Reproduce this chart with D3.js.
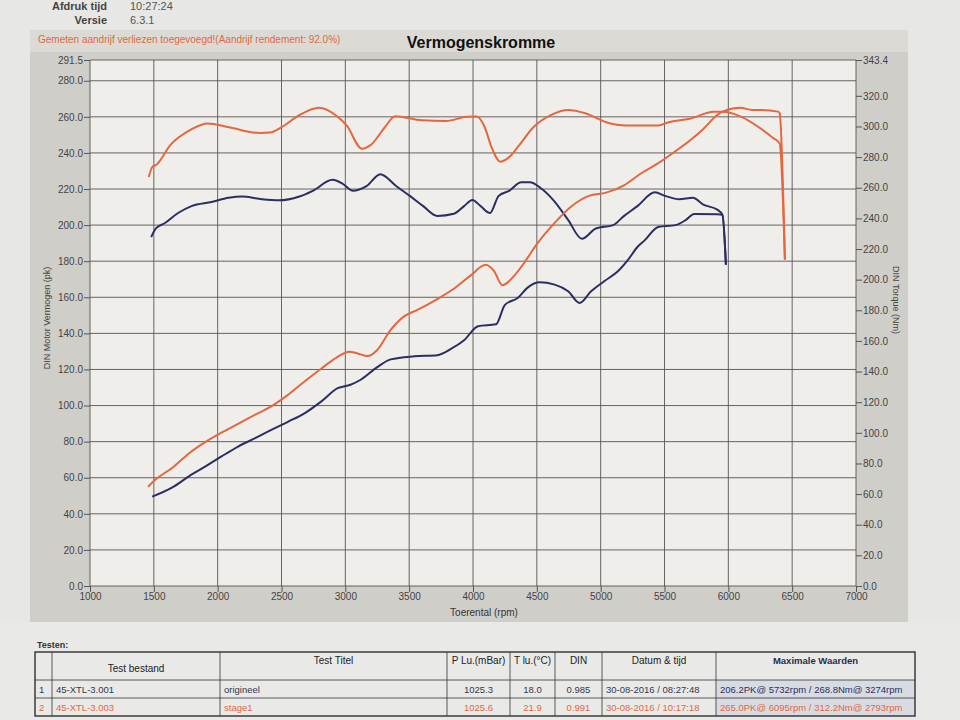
<!DOCTYPE html>
<html>
<head>
<meta charset="utf-8">
<script src="https://cdn.jsdelivr.net/npm/d3@7"></script>
<style>
  body { margin: 0; background: #e7e7e5; font-family: "Liberation Sans", Arial, sans-serif; }
</style>
</head>
<body>
<svg id="chart" width="960" height="720"></svg>
<script>
// dyno sheet: power (pk) + torque (Nm) vs rpm, original vs stage1

// x axis ticks
const rpmTicks = [1000, 1500, 2000, 2500, 3000, 3500, 4000, 4500, 5000, 5500, 6000, 6500, 7000];
const pkTicks = [0, 20, 40, 60, 80, 100, 120, 140, 160, 180, 200, 220, 240, 260, 280, 291.5];
const nmTicks = [0, 20, 40, 60, 80, 100, 120, 140, 160, 180, 200, 220, 240, 260, 280, 300, 320, 343.4];
const pkMax = 291.5;
const nmMax = 343.4;

// [rpm, value] read from the sheet
const stage1Torque = [
  [1460, 267], [1490, 273.8], [1520, 275], [1630, 288], [1790, 298], [1920, 302], [2090, 299.5],
  [2330, 295.7], [2410, 296], [2500, 299.5], [2640, 307.4], [2793, 312.2], [2930, 307], [3010, 300.7],
  [3130, 285.5], [3200, 288], [3310, 299.5], [3390, 306.7], [3600, 304], [3790, 303.6], [3950, 306.3],
  [4030, 306.5], [4092, 299.5], [4147, 286], [4215, 277], [4283, 280], [4364, 288], [4473, 299.5],
  [4609, 307.4], [4745, 310.8], [4880, 308.6], [5043, 302.8], [5206, 300.7], [5451, 300.7], [5533, 302.8],
  [5696, 305], [5886, 309.6], [5954, 309.6], [6103, 306.3], [6239, 299.5], [6348, 292.7], [6402, 289],
  [6443, 213]
];

const stage1Power = [
  [1455, 55], [1513, 59], [1645, 65.5], [1777, 73.6], [1908, 80], [2030, 85], [2160, 89.8], [2290, 94.8],
  [2420, 99.5], [2550, 105.9], [2680, 113.3], [2810, 120.4], [2940, 127], [3030, 129.8], [3095, 128.9],
  [3175, 127.4], [3250, 130.8], [3355, 141.9], [3460, 149.4], [3565, 153], [3720, 159], [3850, 164.7],
  [3980, 172], [4100, 178], [4165, 174.5], [4230, 166.7], [4320, 171.7], [4400, 179], [4500, 189.5],
  [4636, 201], [4772, 210.5], [4908, 216.2], [5043, 218], [5179, 221.9], [5315, 228.6], [5451, 234.3],
  [5587, 241], [5696, 246.7], [5804, 253.3], [5913, 261], [5954, 262.9], [6095, 265], [6185, 263.8],
  [6266, 263.8], [6389, 262.9], [6402, 262], [6443, 181]
];

const origTorque = [
  [1479, 227.8], [1518, 233.6], [1584, 236.8], [1690, 243.5], [1795, 248], [1953, 250.7], [2085, 253.4],
  [2190, 254.3], [2348, 252.5], [2480, 251.8], [2640, 254.3], [2745, 258], [2900, 265.2], [2980, 262.5],
  [3060, 258], [3165, 261], [3274, 268.8], [3400, 261], [3505, 254.7], [3610, 248], [3720, 241.6],
  [3850, 243], [3930, 248], [3995, 252], [4060, 248], [4133, 243.5], [4201, 254.7], [4283, 258],
  [4378, 263.6], [4446, 263.6], [4527, 260], [4636, 251.3], [4745, 239], [4853, 226.7], [4962, 233.4],
  [5098, 235.6], [5179, 241.3], [5288, 248], [5424, 257], [5505, 254.7], [5614, 252.5], [5723, 253.5],
  [5804, 249], [5913, 245.7], [5954, 242.3], [5981, 209.8]
];

const origPower = [
  [1487, 49.5], [1645, 54.6], [1777, 60.9], [1908, 66.4], [2030, 71.8], [2160, 77.3], [2290, 81.8],
  [2420, 86.5], [2550, 91], [2680, 95.7], [2810, 102.2], [2940, 109.6], [3040, 111.5], [3120, 114.3],
  [3250, 121.3], [3355, 125.6], [3540, 127.3], [3720, 127.9], [3830, 131.5], [3930, 136.2], [4040, 144],
  [4180, 145], [4250, 155.8], [4350, 159.6], [4430, 165.5], [4520, 168.3], [4640, 167], [4745, 163.3],
  [4835, 156.8], [4925, 163.3], [5030, 169], [5135, 174.4], [5206, 180], [5290, 188], [5342, 191.4],
  [5451, 199], [5587, 200], [5668, 202.9], [5732, 206.2], [5913, 206], [5954, 205.7], [5981, 178]
];

// test table
const tableHeaders = ["", "Test bestand", "Test Titel", "P Lu.(mBar)", "T lu.(\u00B0C)", "DIN", "Datum & tijd", "Maximale Waarden"];
const tableRows = [
  ["1", "45-XTL-3.001", "origineel", "1025.3", "18.0", "0.985", "30-08-2016 / 08:27:48", "206.2PK@ 5732rpm / 268.8Nm@ 3274rpm"],
  ["2", "45-XTL-3.003", "stage1", "1025.6", "21.9", "0.991", "30-08-2016 / 10:17:18", "265.0PK@ 6095rpm / 312.2Nm@ 2793rpm"]
];

const navy = "#2b2e63";
const orange = "#e4673f";
const rowColors = ["#34384f", orange];

const svg = d3.select("#chart");

// page header
svg.append("text").attr("x", 107).attr("y", 10).attr("text-anchor", "end")
  .style("font-size", "11px").style("font-weight", "bold").style("fill", "#444").text("Afdruk tijd");
svg.append("text").attr("x", 130).attr("y", 10)
  .style("font-size", "11px").style("fill", "#555").text("10:27:24");
svg.append("text").attr("x", 107).attr("y", 24).attr("text-anchor", "end")
  .style("font-size", "11px").style("font-weight", "bold").style("fill", "#444").text("Versie");
svg.append("text").attr("x", 130).attr("y", 24)
  .style("font-size", "11px").style("fill", "#555").text("6.3.1");

// panel
svg.append("rect").attr("x", 30).attr("y", 30).attr("width", 878).attr("height", 592).style("fill", "#d0cec9");
svg.append("rect").attr("x", 30).attr("y", 30).attr("width", 878).attr("height", 22).style("fill", "#dcdad5");

const margin = { left: 90, right: 856, top: 60, bottom: 586 };

const x = d3.scaleLinear().domain([1000, 7000]).range([margin.left, margin.right]);
const yLeft = d3.scaleLinear().domain([0, pkMax]).range([margin.bottom, margin.top]);
const yRight = d3.scaleLinear().domain([0, nmMax]).range([margin.bottom, margin.top]);

svg.append("rect")
  .attr("x", margin.left).attr("y", margin.top)
  .attr("width", margin.right - margin.left).attr("height", margin.bottom - margin.top)
  .style("fill", "#efeeea");

svg.append("text").attr("x", 38).attr("y", 43)
  .style("font-size", "10px").style("fill", orange)
  .text("Gemeten aandrijf verliezen toegevoegd!(Aandrijf rendement: 92.0%)");
svg.append("text").attr("x", 481).attr("y", 48).attr("text-anchor", "middle")
  .style("font-size", "16px").style("font-weight", "bold").style("fill", "#111")
  .text("Vermogenskromme");

// grid
const grid = svg.append("g");
grid.selectAll("line.h")
  .data(pkTicks)
  .enter()
  .append("line")
  .attr("x1", margin.left).attr("x2", margin.right)
  .attr("y1", (d) => yLeft(d)).attr("y2", (d) => yLeft(d))
  .style("stroke", "#555").style("stroke-width", 0.9);

grid.selectAll("line.v")
  .data(rpmTicks)
  .enter()
  .append("line")
  .attr("x1", (d) => x(d)).attr("x2", (d) => x(d))
  .attr("y1", margin.top).attr("y2", margin.bottom)
  .style("stroke", "#555").style("stroke-width", 0.9);

// axes
function styleAxis(g) {
  g.select(".domain").remove();
  g.selectAll(".tick line").style("stroke", "#555");
  g.selectAll(".tick text").style("font-size", "10px").style("fill", "#444")
    .style("font-family", "'Liberation Sans', Arial, sans-serif");
}

svg.append("g")
  .attr("transform", `translate(${margin.left},0)`)
  .call(d3.axisLeft(yLeft).tickValues(pkTicks).tickFormat(d3.format(".1f")).tickSize(6).tickPadding(1))
  .call(styleAxis);

svg.append("g")
  .attr("transform", `translate(${margin.right},0)`)
  .call(d3.axisRight(yRight).tickValues(nmTicks).tickFormat(d3.format(".1f")).tickSize(6).tickPadding(1))
  .call(styleAxis);

svg.append("g")
  .attr("transform", `translate(0,${margin.bottom})`)
  .call(d3.axisBottom(x).tickValues(rpmTicks).tickFormat(d3.format("d")).tickSize(6).tickPadding(1))
  .call(styleAxis);

svg.append("text")
  .attr("transform", "translate(50,318) rotate(-90)")
  .attr("text-anchor", "middle")
  .style("font-size", "9px").style("fill", "#444")
  .text("DIN Motor Vermogen (pk)");
svg.append("text")
  .attr("transform", "translate(893,300) rotate(90)")
  .attr("text-anchor", "middle")
  .style("font-size", "9px").style("fill", "#444")
  .text("DIN Torque (Nm)");
svg.append("text")
  .attr("x", 484).attr("y", 616).attr("text-anchor", "middle")
  .style("font-size", "10px").style("fill", "#333")
  .text("Toerental (rpm)");

// curves
const lineLeft = d3.line().x((d) => x(d[0])).y((d) => yLeft(d[1])).curve(d3.curveMonotoneX);
const lineRight = d3.line().x((d) => x(d[0])).y((d) => yRight(d[1])).curve(d3.curveMonotoneX);

const curves = [
  { data: origPower, line: lineLeft, color: navy },
  { data: origTorque, line: lineRight, color: navy },
  { data: stage1Power, line: lineLeft, color: orange },
  { data: stage1Torque, line: lineRight, color: orange }
];

svg.append("g")
  .selectAll("path")
  .data(curves)
  .enter()
  .append("path")
  .attr("d", (d) => d.line(d.data))
  .style("fill", "none")
  .style("stroke", (d) => d.color)
  .style("stroke-width", 2)
  .style("stroke-linejoin", "round");

// table
svg.append("rect").attr("x", 0).attr("y", 622).attr("width", 960).attr("height", 98).style("fill", "#e9e9e7");
svg.append("text").attr("x", 37).attr("y", 648)
  .style("font-size", "9px").style("font-weight", "bold").style("fill", "#333").text("Testen:");

const colEdges = [35, 52, 220, 447, 510, 555, 602, 716, 915];
const rowEdges = [652, 680, 698, 716];

const table = svg.append("g");
table.append("rect")
  .attr("x", 716).attr("y", rowEdges[1])
  .attr("width", colEdges[8] - 716).attr("height", rowEdges[3] - rowEdges[1])
  .style("fill", "#d9dbe2");
table.append("rect")
  .attr("x", colEdges[0]).attr("y", rowEdges[0])
  .attr("width", colEdges[8] - colEdges[0]).attr("height", rowEdges[3] - rowEdges[0])
  .style("fill", "none").style("stroke", "#222").style("stroke-width", 1.3);

table.selectAll("line.col")
  .data(colEdges.slice(1, -1))
  .enter()
  .append("line")
  .attr("x1", (d) => d).attr("x2", (d) => d)
  .attr("y1", rowEdges[0]).attr("y2", rowEdges[3])
  .style("stroke", "#333").style("stroke-width", 0.8);

table.selectAll("line.row")
  .data(rowEdges.slice(1, -1))
  .enter()
  .append("line")
  .attr("x1", colEdges[0]).attr("x2", colEdges[8])
  .attr("y1", (d) => d).attr("y2", (d) => d)
  .style("stroke", "#333").style("stroke-width", 0.8);

tableHeaders.forEach((h, i) => {
  table.append("text")
    .attr("x", (colEdges[i] + colEdges[i + 1]) / 2)
    .attr("y", i === 1 ? 672 : 664)
    .attr("text-anchor", "middle")
    .style("font-size", i === 7 ? "9.5px" : "10px")
    .style("font-weight", i === 7 ? "bold" : "normal")
    .style("fill", i === 7 ? "#2a2d4a" : "#222")
    .text(h);
});

const leftAligned = [0, 1, 2, 6, 7];
tableRows.forEach((row, r) => {
  row.forEach((cell, i) => {
    const left = leftAligned.includes(i);
    table.append("text")
      .attr("x", left ? colEdges[i] + 4 : (colEdges[i] + colEdges[i + 1]) / 2)
      .attr("y", rowEdges[r + 1] + 13)
      .attr("text-anchor", left ? "start" : "middle")
      .style("font-size", "9.5px")
      .style("fill", i === 7 && r === 0 ? "#2b2e63" : rowColors[r])
      .text(cell);
  });
});
</script>
</body>
</html>
